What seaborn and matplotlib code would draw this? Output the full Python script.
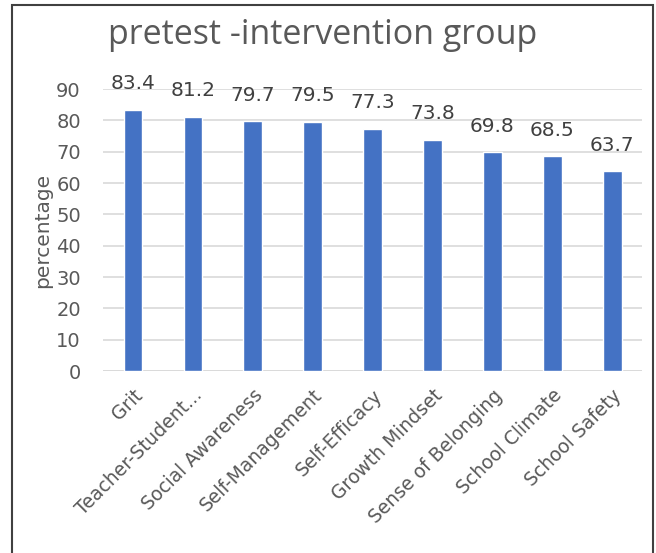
import matplotlib
matplotlib.use("Agg")
import matplotlib.pyplot as plt
import seaborn as sns
import pandas as pd
from matplotlib.patches import Rectangle

categories = ["Grit", "Teacher-Student...", "Social Awareness", "Self-Management",
              "Self-Efficacy", "Growth Mindset", "Sense of Belonging",
              "School Climate", "School Safety"]
values = [83.4, 81.2, 79.7, 79.5, 77.3, 73.8, 69.8, 68.5, 63.7]
yticks = [0, 10, 20, 30, 40, 50, 60, 70, 80, 90]

title = "pretest -intervention group"
ylabel = "percentage"

bar_color = "#4472C4"
text_color = "#595959"
grid_color = "#D9D9D9"

sns.set_theme(style="white")
plt.rcParams["font.family"] = ["DejaVu Sans"]

df = pd.DataFrame({"category": categories, "value": values})

fig = plt.figure(figsize=(6.56, 5.53), dpi=100)
ax = fig.add_axes([0.157, 0.329, 0.822, 0.510])

sns.barplot(data=df, x="category", y="value", color=bar_color, width=0.31,
            saturation=1, ax=ax, zorder=3)

ax.set_ylim(0, 90)
ax.set_xlim(-0.5, len(categories) - 0.5)
ax.set_yticks(yticks)
ax.yaxis.grid(True, color=grid_color, linewidth=1.2, zorder=0)
ax.set_axisbelow(True)
for s in ax.spines.values():
    s.set_visible(False)
ax.axhline(0, color=grid_color, linewidth=1.2, zorder=1)

ax.tick_params(axis="both", length=0, colors=text_color, labelsize=14)
ax.tick_params(axis="y", pad=16)
ax.set_xlabel("")
ax.set_ylabel(ylabel, color=text_color, fontsize=14.5, labelpad=3)
ax.set_xticks(range(len(categories)))
ax.set_xticklabels(categories, rotation=45, ha="right", rotation_mode="anchor",
                   fontsize=13.5, color=text_color)
for lbl in ax.get_xticklabels():
    lbl.set_y(-0.035)

for i, v in enumerate(values):
    ax.annotate(f"{v}", (i, v), xytext=(0, 12), textcoords="offset points",
                ha="center", va="bottom", fontsize=14.5, color="#404040",
                clip_on=False, annotation_clip=False)

fig.text(0.492, 0.937, title, ha="center", va="center", fontsize=24.5,
         color=text_color, family=["Open Sans", "DejaVu Sans"])

# Frame around the chart (open at the bottom)
fig.patches.append(Rectangle((12 / 656, -0.05), 641 / 656, 1.05 - 5 / 553,
                             transform=fig.transFigure, fill=False,
                             edgecolor="#404040", linewidth=1.5))

fig.savefig("out.png", dpi=100)
